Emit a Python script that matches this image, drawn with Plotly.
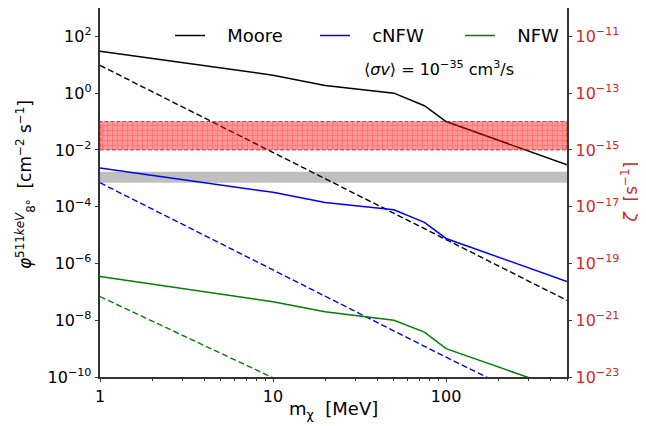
import plotly.graph_objects as go

# ---------------- data ----------------
mass = [1, 10, 20, 50, 75, 100, 500]
moore_solid = [30, 4.3, 1.85, 1.0, 0.36, 0.1, 3.0e-3]
cnfw_solid = [2.3e-3, 3.2e-4, 1.4e-4, 7.8e-5, 2.8e-5, 7.6e-6, 2.3e-7]
nfw_solid = [3.5e-7, 4.5e-8, 2.0e-8, 1.0e-8, 3.8e-9, 1.0e-9, 3.2e-11]

mass_dashed = [1, 10, 100, 500]
moore_dashed = [9.5, 8.3e-3, 7.0e-6, 5.0e-8]
cnfw_dashed = [7.0e-4, 6.0e-7, 5.0e-10, 4.0e-12]
nfw_dashed = [6.8e-8, 9.5e-11, 1.3e-13, 1.3e-15]

band_x = [1, 500]
zeta_band = [1e-15, 1e-14]        # red hatched band (right axis)
gray_band = [7.0e-4, 1.7e-3]      # gray band (left axis)

x_ticks = [1, 10, 100]
x_ticklabels = ["1", "10", "100"]
x_minor = [2, 3, 4, 5, 6, 7, 8, 9, 20, 30, 40, 50, 60, 70, 80, 90, 200, 300, 400, 500]
y_left_exp = [2, 0, -2, -4, -6, -8, -10]
y_right_exp = [-11, -13, -15, -17, -19, -21, -23]

RED = "#d62728"
FONT = "DejaVu Sans"

def lab(e):
    s = str(e).replace("-", "\u2212")
    return f"10<sup>{s}</sup>"

fig = go.Figure()

# gray band
fig.add_trace(go.Scatter(
    x=[band_x[0], band_x[1], band_x[1], band_x[0], band_x[0]],
    y=[gray_band[0], gray_band[0], gray_band[1], gray_band[1], gray_band[0]],
    fill="toself", fillcolor="#bfbfbf", line=dict(width=0), mode="lines",
    showlegend=False, hoverinfo="skip"))

# red hatched band on right axis
fig.add_trace(go.Scatter(
    x=[band_x[0], band_x[1], band_x[1], band_x[0], band_x[0]],
    y=[zeta_band[0], zeta_band[0], zeta_band[1], zeta_band[1], zeta_band[0]],
    fill="toself", fillcolor="rgba(255,0,0,0.4)",
    fillpattern=dict(shape="+", fgcolor="rgba(255,40,40,0.9)", bgcolor="rgba(255,0,0,0.4)",
                     size=5, solidity=0.25),
    line=dict(width=1, color="rgba(255,0,0,0.8)", dash="4px,2px"), mode="lines",
    yaxis="y2", showlegend=False, hoverinfo="skip"))

dash = "6px,3px"
fig.add_trace(go.Scatter(x=mass_dashed, y=moore_dashed, mode="lines",
                         line=dict(color="black", width=1.4, dash=dash), showlegend=False))
fig.add_trace(go.Scatter(x=mass_dashed, y=cnfw_dashed, mode="lines",
                         line=dict(color="blue", width=1.4, dash=dash), showlegend=False))
fig.add_trace(go.Scatter(x=mass_dashed, y=nfw_dashed, mode="lines",
                         line=dict(color="green", width=1.4, dash=dash), showlegend=False))

NB = "\u00a0\u00a0\u00a0"
fig.add_trace(go.Scatter(x=mass, y=moore_solid, mode="lines", name=NB + "Moore",
                         line=dict(color="black", width=1.5)))
fig.add_trace(go.Scatter(x=mass, y=cnfw_solid, mode="lines", name=NB + "cNFW",
                         line=dict(color="blue", width=1.5)))
fig.add_trace(go.Scatter(x=mass, y=nfw_solid, mode="lines", name=NB + "NFW",
                         line=dict(color="green", width=1.5)))

fig.add_annotation(x=0.726, y=0.837, xref="paper", yref="paper", showarrow=False,
                   xanchor="center", yanchor="middle",
                   text="\u27e8<i>\u03c3v</i>\u27e9 = 10<sup>\u221235</sup> cm<sup>3</sup>/s",
                   font=dict(size=16, color="black", family=FONT))

# axis titles
fig.add_annotation(x=0.5, y=0, xref="paper", yref="paper", yshift=-33, showarrow=False,
                   xanchor="center", yanchor="middle",
                   text="m<sub>\u03c7</sub>\u00a0\u00a0[MeV]", font=dict(size=18, color="black", family=FONT))
fig.add_annotation(x=0, y=0.52, xref="paper", yref="paper", xshift=-75, showarrow=False,
                   xanchor="center", yanchor="middle", textangle=-90,
                   text="<i>\u03c6</i><sup>511<i>keV</i></sup><sub>8\u00b0</sub>  [cm<sup>\u22122</sup> s<sup>\u22121</sup>]",
                   font=dict(size=17, color="black", family=FONT))
fig.add_annotation(x=1, y=0.5, xref="paper", yref="paper", xshift=62, showarrow=False,
                   xanchor="center", yanchor="middle", textangle=-90,
                   text="<i>\u03b6</i>  [s<sup>\u22121</sup>]",
                   font=dict(size=17, color=RED, family=FONT))

axis_line = dict(showline=True, linecolor="#333333", linewidth=1.6, showgrid=False,
                 zeroline=False, ticks="outside", ticklen=3.5, tickwidth=1, tickcolor="#333333",
                 automargin=False)

fig.update_layout(
    width=646, height=426,
    margin=dict(l=92, r=87, t=0, b=57),
    paper_bgcolor="white", plot_bgcolor="white",
    font=dict(family=FONT, size=16, color="black"),
    showlegend=True,
    legend=dict(orientation="h", x=0.15, y=0.975, xanchor="left", yanchor="top",
                bgcolor="rgba(0,0,0,0)", font=dict(size=18),
                entrywidth=100, entrywidthmode="pixels"),
    xaxis=dict(type="log", range=[0, 2.69897], mirror=True,
               tickvals=x_ticks, ticktext=x_ticklabels,
               minor=dict(tickvals=x_minor, ticks="outside", ticklen=2.5, tickcolor="#333333"),
               **axis_line),
    yaxis=dict(type="log", range=[-10, 3], mirror=False,
               tickvals=[10 ** e for e in y_left_exp], ticktext=[lab(e) for e in y_left_exp],
               **axis_line),
    yaxis2=dict(type="log", range=[-23, -10], overlaying="y", side="right",
                tickvals=[10 ** e for e in y_right_exp], ticktext=[lab(e) for e in y_right_exp],
                tickfont=dict(color=RED, size=16),
                **axis_line),
)

fig.write_html("out.html")
